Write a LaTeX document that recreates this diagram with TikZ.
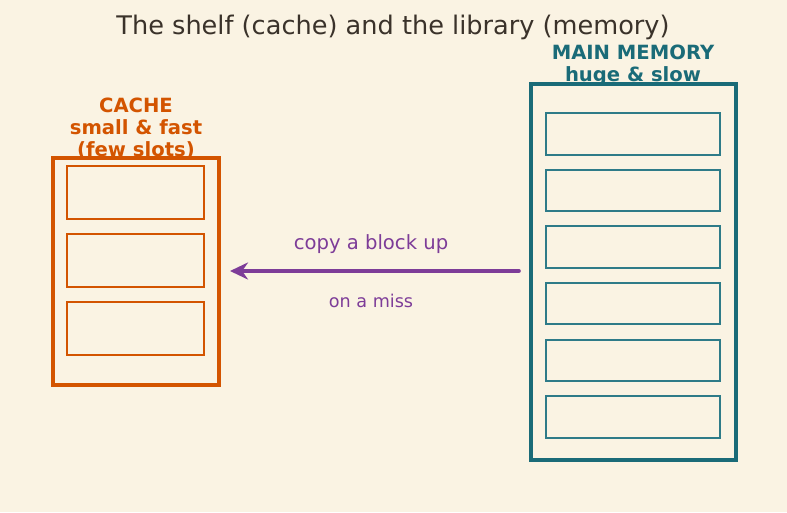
\documentclass[tikz,border=0pt]{standalone}
\usepackage{fontspec}
\setmainfont{DejaVu Sans}
\usetikzlibrary{arrows.meta}
\definecolor{bg}{HTML}{FAF3E3}
\definecolor{cacheC}{HTML}{D35400}
\definecolor{memC}{HTML}{1A6B78}
\definecolor{memS}{HTML}{2E7B88}
\definecolor{arrC}{HTML}{7D3C98}
\definecolor{titleC}{HTML}{3A322A}
\tikzset{
  cacheouter/.style={draw=cacheC,line width=4pt},
  cacheslot/.style={draw=cacheC,line width=1.4pt},
  memouter/.style={draw=memC,line width=4pt},
  memslot/.style={draw=memS,line width=1.3pt},
  lbl/.style={align=center,font=\fontsize{19.6}{22}\selectfont\bfseries},
}
\begin{document}
\begin{tikzpicture}[x=1pt,y=-1pt]
\fill[bg] (0,0) rectangle (787,512);
\useasboundingbox (0,0) rectangle (787,512);
\node[text=titleC,font=\fontsize{25.6}{30}\selectfont] (title) at (393,27) {The shelf (cache) and the library (memory)};
% cache
\draw[cacheouter] (53,158) rectangle (219,385);
\draw[cacheslot] (67,166) rectangle (204,219);
\draw[cacheslot] (67,234) rectangle (204,287);
\draw[cacheslot] (67,302) rectangle (204,355);
\node[lbl,text=cacheC] (cachelbl) at (136,129) {CACHE\\small \& fast\\(few slots)};
% memory
\draw[memouter] (531,84) rectangle (736,460);
\foreach \y/\h in {113/155,170/211,226/268,283/324,340/381,396/438}
  \draw[memslot] (546,\y) rectangle (720,\h);
\node[lbl,text=memC] (memlbl) at (633,65) {MAIN MEMORY\\huge \& slow};
% arrow
\coordinate (astart) at (519,271);
\coordinate (aend) at (230,271);
\draw[arrC,line width=3.6pt,line cap=round,-{Stealth[length=18pt,width=17pt]}] (astart) -- (aend);
\node[text=arrC,font=\fontsize{19.6}{22}\selectfont] (copy) at (371,244) {copy a block up};
\node[text=arrC,font=\fontsize{17.6}{20}\selectfont] (miss) at (371,301) {on a miss};
\end{tikzpicture}
\end{document}
